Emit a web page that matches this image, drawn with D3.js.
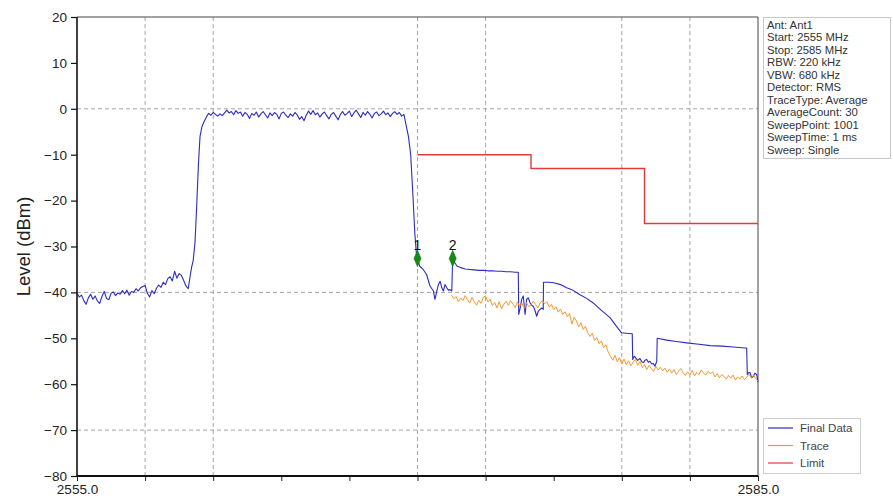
<!DOCTYPE html>
<html>
<head>
<meta charset="utf-8">
<script src="https://cdn.jsdelivr.net/npm/d3@7"></script>
<style>
body { margin: 0; background: #fff; }
text { font-family: "Liberation Sans", Arial, sans-serif; }
</style>
</head>
<body>
<script>
// ---------- DATA ----------
const xTicks = [2555, 2558, 2561, 2564, 2567, 2570, 2573, 2576, 2579, 2582, 2585];
const xTickLabels = ["2555.0", "", "", "", "", "", "", "", "", "", "2585.0"];
const yTicks = [20, 10, 0, -10, -20, -30, -40, -50, -60, -70, -80];
const xGrid = [2558, 2561, 2570, 2573, 2579, 2582];
const yGrid = [0, -40, -70];

const finalData = [
[2555.0,-40.2],[2555.1,-41.0],[2555.2,-40.6],[2555.3,-41.8],[2555.4,-42.6],[2555.5,-41.2],[2555.6,-40.4],[2555.7,-41.5],[2555.8,-40.8],[2555.9,-41.9],
[2556.0,-42.4],[2556.1,-40.9],[2556.2,-39.8],[2556.3,-41.3],[2556.4,-41.6],[2556.5,-40.2],[2556.6,-39.9],[2556.7,-40.7],[2556.8,-40.1],[2556.9,-40.4],
[2557.0,-39.6],[2557.1,-40.3],[2557.2,-39.5],[2557.3,-40.6],[2557.4,-39.8],[2557.5,-40.0],[2557.6,-39.2],[2557.7,-39.7],[2557.8,-39.0],[2557.9,-38.7],
[2558.0,-38.5],[2558.1,-40.2],[2558.2,-41.0],[2558.3,-39.6],[2558.4,-40.3],[2558.5,-39.1],[2558.6,-38.4],[2558.7,-38.9],[2558.8,-37.8],[2558.9,-38.3],
[2559.0,-37.0],[2559.1,-36.6],[2559.2,-37.5],[2559.3,-35.4],[2559.4,-36.9],[2559.5,-35.9],[2559.6,-36.3],[2559.7,-37.4],[2559.8,-38.6],[2559.9,-39.2],
[2560.0,-36.0],[2560.05,-34.5],[2560.12,-33.0],[2560.2,-29.0],[2560.27,-21.5],[2560.35,-12.0],[2560.42,-6.0],[2560.5,-4.0],[2560.58,-3.0],[2560.65,-2.3],[2560.72,-1.6],
[2560.8,-1.0],[2560.9,-1.4],[2561.0,-0.8],[2561.1,-1.2],[2561.2,-1.6],[2561.3,-1.1],[2561.4,-1.5],[2561.5,-0.9],[2561.6,-0.3],[2561.7,-0.9],
[2561.8,-0.6],[2561.9,-1.3],[2562.0,-0.4],[2562.1,-1.0],[2562.2,-0.7],[2562.3,-1.6],[2562.4,-0.8],[2562.5,-1.2],[2562.6,-2.1],[2562.7,-1.0],
[2562.8,-1.4],[2562.9,-0.7],[2563.0,-1.8],[2563.1,-1.1],[2563.2,-0.6],[2563.3,-1.3],[2563.4,-2.0],[2563.5,-0.9],[2563.6,-1.5],[2563.7,-0.8],
[2563.8,-1.2],[2563.9,-2.2],[2564.0,-1.0],[2564.1,-0.7],[2564.2,-1.4],[2564.3,-1.9],[2564.4,-1.1],[2564.5,-1.6],[2564.6,-0.8],[2564.7,-1.3],
[2564.8,-2.3],[2564.9,-1.7],[2565.0,-2.6],[2565.1,-1.4],[2565.2,-0.5],[2565.3,-1.2],[2565.4,-0.4],[2565.5,-1.3],[2565.6,-0.9],[2565.7,-1.8],
[2565.8,-1.1],[2565.9,-0.7],[2566.0,-1.5],[2566.1,-2.2],[2566.2,-1.2],[2566.3,-0.8],[2566.4,-1.6],[2566.5,-2.4],[2566.6,-1.3],[2566.7,-0.6],
[2566.8,-1.4],[2566.9,-1.0],[2567.0,-0.5],[2567.1,-1.7],[2567.2,-0.9],[2567.3,-0.3],[2567.4,-1.1],[2567.5,-1.9],[2567.6,-0.8],[2567.7,-1.4],
[2567.8,-0.6],[2567.9,-1.2],[2568.0,-2.0],[2568.1,-1.0],[2568.2,-0.7],[2568.3,-1.5],[2568.4,-1.1],[2568.5,-0.5],[2568.6,-1.3],[2568.7,-0.9],
[2568.8,-1.7],[2568.9,-1.0],[2569.0,-0.6],[2569.1,-1.2],[2569.2,-0.8],[2569.3,-1.6],[2569.4,-1.2],[2569.5,-3.6],[2569.6,-6.0],[2569.7,-10.0],
[2569.8,-19.0],[2569.88,-27.0],[2569.95,-31.5],[2570.0,-32.8],
[2570.1,-34.3],[2570.25,-35.0],[2570.4,-36.1],[2570.55,-38.6],[2570.7,-39.7],[2570.77,-41.5],[2570.85,-39.7],[2570.92,-38.3],[2571.0,-37.6],
[2571.07,-39.0],[2571.14,-39.7],[2571.21,-38.3],[2571.29,-39.0],[2571.36,-39.5],[2571.43,-39.4],[2571.51,-39.7],
[2571.55,-32.6],[2571.65,-33.6],[2571.75,-34.3],[2571.9,-34.6],[2572.1,-34.9],[2572.3,-35.0],[2572.5,-35.1],[2572.7,-35.2],[2572.9,-35.2],
[2573.1,-35.3],[2573.3,-35.3],[2573.5,-35.4],[2573.7,-35.4],[2573.9,-35.5],[2574.1,-35.5],[2574.3,-35.6],[2574.44,-35.6],
[2574.46,-44.8],[2574.52,-43.5],[2574.59,-41.5],[2574.66,-40.8],[2574.74,-44.8],[2574.81,-41.5],[2574.88,-41.2],[2574.96,-42.3],[2575.03,-42.8],
[2575.10,-43.0],[2575.18,-44.0],[2575.25,-45.2],[2575.32,-44.1],[2575.40,-43.7],[2575.47,-43.4],[2575.54,-43.7],
[2575.55,-37.8],[2575.8,-37.8],[2576.0,-37.9],[2576.3,-38.3],[2576.57,-39.0],[2576.8,-39.4],[2577.16,-40.5],[2577.45,-41.3],[2577.74,-42.3],
[2578.1,-43.9],[2578.48,-45.5],[2578.75,-47.3],[2578.99,-48.8],[2579.2,-48.9],[2579.46,-49.0],
[2579.48,-54.6],[2579.55,-53.9],[2579.62,-54.3],[2579.7,-54.8],[2579.8,-54.4],[2579.88,-55.1],[2579.95,-55.3],[2580.02,-54.8],[2580.1,-54.6],
[2580.17,-55.2],[2580.24,-55.0],[2580.32,-55.6],[2580.39,-55.5],[2580.46,-56.1],[2580.54,-55.0],
[2580.56,-50.0],[2580.98,-50.4],[2581.4,-50.7],[2581.86,-51.0],[2582.4,-51.3],[2582.89,-51.6],[2583.4,-51.7],[2583.91,-51.9],[2584.43,-52.1],[2584.5,-52.1],
[2584.53,-57.9],[2584.6,-57.4],[2584.65,-57.5],[2584.72,-58.6],[2584.79,-58.3],[2584.86,-57.6],[2584.94,-57.9],[2585.0,-59.5]
];

const traceData = [
[2571.5,-40.6],[2571.6,-41.4],[2571.7,-40.9],[2571.8,-42.0],[2571.9,-41.2],[2572.0,-41.8],[2572.1,-40.7],[2572.2,-41.6],[2572.3,-42.3],[2572.4,-41.1],
[2572.5,-42.0],[2572.6,-42.8],[2572.7,-41.7],[2572.8,-42.4],[2572.9,-41.0],[2573.0,-40.8],[2573.1,-42.1],[2573.2,-41.5],[2573.3,-42.9],[2573.4,-42.2],
[2573.5,-43.4],[2573.6,-42.0],[2573.7,-43.6],[2573.8,-42.6],[2573.9,-41.9],[2574.0,-42.8],[2574.1,-41.8],[2574.2,-42.5],[2574.3,-43.3],[2574.4,-42.1],
[2574.5,-43.0],[2574.6,-42.4],[2574.7,-43.5],[2574.8,-42.2],[2574.9,-43.1],[2575.0,-42.7],[2575.1,-41.9],[2575.2,-42.6],[2575.3,-43.4],[2575.4,-42.3],
[2575.5,-41.8],[2575.6,-42.5],[2575.7,-42.0],[2575.8,-43.2],[2575.9,-42.6],[2576.0,-43.8],[2576.1,-43.1],[2576.2,-44.3],[2576.3,-43.6],[2576.4,-44.8],
[2576.5,-44.2],[2576.6,-45.3],[2576.7,-44.6],[2576.8,-46.9],[2576.9,-45.4],[2577.0,-46.2],[2577.1,-47.5],[2577.2,-46.6],[2577.3,-48.1],[2577.4,-47.4],
[2577.5,-48.8],[2577.6,-49.6],[2577.7,-48.9],[2577.8,-50.5],[2577.9,-49.8],[2578.0,-51.2],[2578.1,-50.6],[2578.2,-52.0],[2578.3,-51.4],[2578.4,-53.0],
[2578.5,-53.9],[2578.6,-54.8],[2578.7,-53.7],[2578.8,-55.1],[2578.9,-54.2],[2579.0,-55.6],[2579.1,-54.5],[2579.2,-55.8],[2579.3,-54.9],[2579.4,-56.0],
[2579.5,-55.2],[2579.6,-54.6],[2579.7,-55.9],[2579.8,-55.0],[2579.9,-56.4],[2580.0,-55.7],[2580.1,-56.8],[2580.2,-55.9],[2580.3,-56.6],[2580.4,-57.2],
[2580.5,-56.1],[2580.6,-56.9],[2580.7,-56.3],[2580.8,-57.1],[2580.9,-56.5],[2581.0,-57.4],[2581.1,-56.7],[2581.2,-57.6],[2581.3,-56.8],[2581.4,-57.9],
[2581.5,-57.2],[2581.6,-56.6],[2581.7,-57.5],[2581.8,-58.1],[2581.9,-57.3],[2582.0,-57.9],[2582.1,-57.0],[2582.2,-58.2],[2582.3,-57.4],[2582.4,-57.9],
[2582.5,-56.9],[2582.6,-57.6],[2582.7,-58.0],[2582.8,-57.2],[2582.9,-57.8],[2583.0,-57.3],[2583.1,-58.4],[2583.2,-57.7],[2583.3,-58.6],[2583.4,-57.9],
[2583.5,-58.3],[2583.6,-58.9],[2583.7,-58.1],[2583.8,-58.7],[2583.9,-58.0],[2584.0,-59.1],[2584.1,-58.4],[2584.2,-58.9],[2584.3,-58.2],[2584.4,-59.0],
[2584.5,-58.5],[2584.6,-57.8],[2584.7,-58.6],[2584.8,-58.0],[2584.9,-58.8],[2585.0,-59.3]
];

const limitData = [[2570,-10],[2575,-10],[2575,-13],[2580,-13],[2580,-25],[2585,-25]];

const markers = [
  {label: "1", freq: 2570.0, level: -32.6},
  {label: "2", freq: 2571.55, level: -32.6}
];

const infoLines = ["Ant: Ant1", "Start: 2555 MHz", "Stop: 2585 MHz", "RBW: 220 kHz", "VBW: 680 kHz",
  "Detector: RMS", "TraceType: Average", "AverageCount: 30", "SweepPoint: 1001", "SweepTime: 1 ms", "Sweep: Single"];

const legendNames = ["Final Data", "Trace", "Limit"];
const colors = {"Final Data": "#2c2cc0", "Trace": "#f39a34", "Limit": "#e23a3a"};

// ---------- CHART ----------
const W = 893, H = 500;
const svg = d3.select("body").append("svg").attr("width", W).attr("height", H);

const x = d3.scaleLinear().domain([2555, 2585]).range([77, 758]);
const y = d3.scaleLinear().domain([-80, 20]).range([476, 17]);

// grid
svg.append("g").selectAll("line").data(xGrid).join("line")
  .attr("x1", d => x(d)).attr("x2", d => x(d)).attr("y1", y(20)).attr("y2", y(-80))
  .attr("stroke", "#9a9a9a").attr("stroke-width", 0.9).attr("stroke-dasharray", "4,3");
svg.append("g").selectAll("line").data(yGrid).join("line")
  .attr("x1", x(2555)).attr("x2", x(2585)).attr("y1", d => y(d)).attr("y2", d => y(d))
  .attr("stroke", "#9a9a9a").attr("stroke-width", 0.9).attr("stroke-dasharray", "4,3");

// frame (top and right)
svg.append("path")
  .attr("d", `M${x(2555)},${y(20)}H${x(2585)}V${y(-80)}`)
  .attr("fill", "none").attr("stroke", "#444").attr("stroke-width", 1);

const line = d3.line().x(d => x(d[0])).y(d => y(d[1]));

svg.append("path").datum(finalData).attr("d", line)
  .attr("fill", "none").attr("stroke", colors["Final Data"]).attr("stroke-width", 1.1).attr("stroke-linejoin", "round");
svg.append("path").datum(traceData).attr("d", line)
  .attr("fill", "none").attr("stroke", colors["Trace"]).attr("stroke-width", 1.0).attr("stroke-linejoin", "round");
svg.append("path").datum(limitData).attr("d", line)
  .attr("fill", "none").attr("stroke", colors["Limit"]).attr("stroke-width", 1.4);

// markers
const mg = svg.append("g").selectAll("g").data(markers).join("g")
  .attr("transform", d => `translate(${x(d.freq)},${y(d.level)})`);
mg.append("path").attr("d", d3.symbol().type(d3.symbolDiamond).size(60))
  .attr("transform", "scale(0.85,1.15)")
  .attr("fill", "#158a15").attr("stroke", "#0e6e0e").attr("stroke-width", 0.5);
mg.append("text").attr("y", -8).attr("text-anchor", "middle")
  .attr("font-size", 14).attr("fill", "#111").text(d => d.label);

// axes
const yAxis = d3.axisLeft(y).tickValues(yTicks).tickSize(6).tickPadding(4)
  .tickFormat(d => d < 0 ? "\u2212" + Math.abs(d) : String(d));
const gy = svg.append("g").attr("transform", `translate(${x(2555)},0)`).call(yAxis);
gy.select(".domain").remove();
gy.selectAll(".tick line").attr("stroke", "#111").attr("stroke-width", 1.2);
gy.selectAll(".tick text").attr("font-size", 13.5).attr("fill", "#222")
  .attr("font-family", "'Liberation Sans', Arial, sans-serif");

const xAxis = d3.axisBottom(x).tickValues(xTicks).tickSize(5).tickPadding(3)
  .tickFormat((d, i) => xTickLabels[i]);
const gx = svg.append("g").attr("transform", `translate(0,${y(-80)})`).call(xAxis);
gx.select(".domain").remove();
gx.selectAll(".tick line").attr("stroke", "#222").attr("stroke-width", 1);
gx.selectAll(".tick text").attr("font-size", 13.5).attr("fill", "#222")
  .attr("font-family", "'Liberation Sans', Arial, sans-serif");

// spines left and bottom
svg.append("line").attr("x1", x(2555)).attr("x2", x(2555)).attr("y1", y(20)).attr("y2", y(-80))
  .attr("stroke", "#111").attr("stroke-width", 1.6);
svg.append("line").attr("x1", x(2555)).attr("x2", x(2585)).attr("y1", y(-80)).attr("y2", y(-80))
  .attr("stroke", "#111").attr("stroke-width", 1.8);

// y label
svg.append("text").attr("transform", `translate(24,${(y(20) + y(-80)) / 2}) rotate(-90)`)
  .attr("text-anchor", "middle").attr("dy", "0.35em").attr("font-size", 18.5).attr("fill", "#222").text("Level (dBm)");

// info box
const ib = svg.append("g");
ib.append("rect").attr("x", 763.5).attr("y", 17.5).attr("width", 127).attr("height", 141)
  .attr("fill", "#fff").attr("stroke", "#c8c8c8").attr("stroke-width", 1);
ib.selectAll("text").data(infoLines).join("text")
  .attr("x", 767).attr("y", (d, i) => 28.5 + i * 12.5)
  .attr("font-size", 11.3).attr("fill", "#333").text(d => d);

// legend
const lg = svg.append("g");
lg.append("rect").attr("x", 763.5).attr("y", 418.5).attr("width", 97).attr("height", 55)
  .attr("fill", "#fff").attr("stroke", "#cfcfcf").attr("stroke-width", 1);
const li = lg.selectAll("g").data(legendNames).join("g")
  .attr("transform", (d, i) => `translate(0,${428 + i * 17.5})`);
li.append("line").attr("x1", 768).attr("x2", 793).attr("y1", 0).attr("y2", 0)
  .attr("stroke", d => colors[d]).attr("stroke-width", 1.2);
li.append("text").attr("x", 800).attr("y", 4).attr("font-size", 11.5).attr("fill", "#444").text(d => d);
</script>
</body>
</html>
